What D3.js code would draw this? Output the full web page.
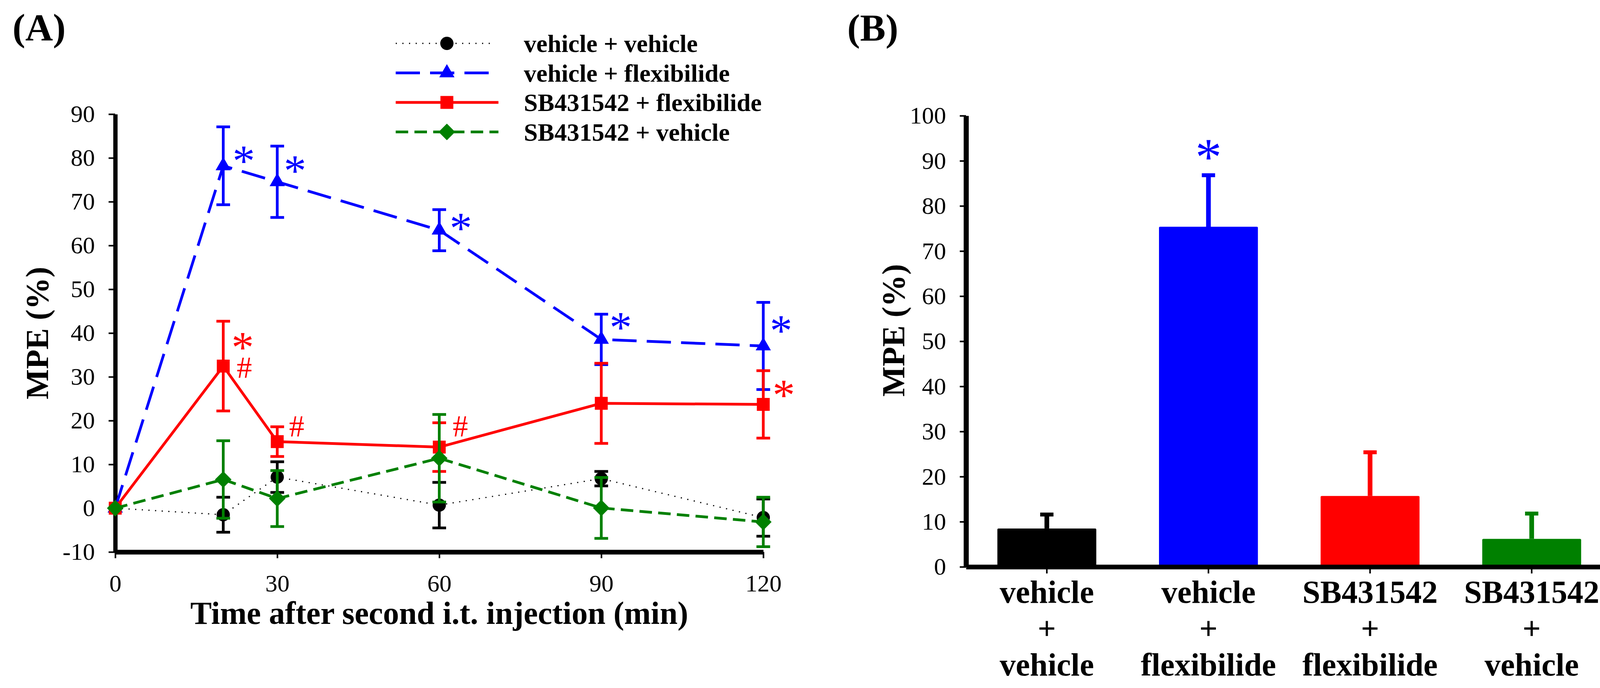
<!DOCTYPE html>
<html>
<head>
<meta charset="utf-8">
<script src="https://cdn.jsdelivr.net/npm/d3@7"></script>
<style>
	body { margin: 0; background: #ffffff; }
	svg { display: block; }
</style>
</head>
<body>
<svg id="chart" width="4145" height="1760"></svg>
<script>
// ---- DATA ----
// panel (A): time course, mean +/- error per group
const times = [0, 20, 30, 60, 90, 120];
const timeTicks = [0, 30, 60, 90, 120];
const mpeTicksA = [-10, 0, 10, 20, 30, 40, 50, 60, 70, 80, 90];
const seriesNames = ['vehicle + vehicle', 'vehicle + flexibilide', 'SB431542 + flexibilide', 'SB431542 + vehicle'];
const vehVehMean = [0, -1.5, 7.1, 0.7, 6.75, -2.15];
const vehVehErr = [0, 4.0, 3.5, 5.2, 1.65, 4.25];
const vehFlexMean = [0, 78.2, 74.55, 63.5, 38.55, 37.05];
const vehFlexErr = [0, 8.9, 8.15, 4.7, 5.75, 9.95];
const sbFlexMean = [0, 32.45, 15.2, 13.95, 23.95, 23.7];
const sbFlexErr = [0, 10.25, 3.4, 5.55, 9.15, 7.7];
const sbVehMean = [0, 6.55, 2.2, 11.4, 0.05, -3.15];
const sbVehErr = [0, 8.85, 6.4, 10.0, 6.95, 5.65];

// significance marks in (A): position in minutes / MPE units
const blueStarTime = [23.8, 33.3, 64.0, 93.6, 123.3];
const blueStarMpe = [80.7, 78.5, 65.4, 42.7, 42.0];
const redStarTime = [23.6, 123.8];
const redStarMpe = [38.1, 27.2];
const redHashTime = [23.9, 33.6, 63.9];
const redHashMpe = [32.2, 18.8, 18.8];

// panel (B): bars
const groupLabels = [['vehicle', '+', 'vehicle'], ['vehicle', '+', 'flexibilide'], ['SB431542', '+', 'flexibilide'], ['SB431542', '+', 'vehicle']];
const barMeans = [8.5, 75.4, 15.7, 6.2];
const barErrs = [3.1, 11.4, 9.7, 5.6];
const mpeTicksB = [0, 10, 20, 30, 40, 50, 60, 70, 80, 90, 100];
const barStarIndex = 1;
const barStarMpe = 92.4;

// ---- STYLE ----
const FONT = '"Liberation Serif", "Times New Roman", Times, serif';
const BLUE = '#0000ff', RED = '#ff0000', GREEN = '#008000', BLACK = '#000000';

const series = [
	{ name: seriesNames[0], mean: vehVehMean, err: vehVehErr, color: BLACK, width: 3, dash: '3,14', marker: 'circle' },
	{ name: seriesNames[1], mean: vehFlexMean, err: vehFlexErr, color: BLUE, width: 7, dash: '62,26', marker: 'triangle' },
	{ name: seriesNames[2], mean: sbFlexMean, err: sbFlexErr, color: RED, width: 7, dash: null, marker: 'square' },
	{ name: seriesNames[3], mean: sbVehMean, err: sbVehErr, color: GREEN, width: 7, dash: '32,16', marker: 'diamond' }
];
const barColors = [BLACK, BLUE, RED, GREEN];

const svg = d3.select('#chart').attr('font-family', FONT);
svg.append('rect').attr('width', 4145).attr('height', 1760).attr('fill', '#ffffff');

// marker shapes
function markerPath(type) {
	if (type === 'circle') return d3.symbol().type(d3.symbolCircle).size(Math.PI * 17 * 17)();
	if (type === 'triangle') return d3.symbol().type(d3.symbolTriangle).size(660)();
	if (type === 'square') return d3.symbol().type(d3.symbolSquare).size(33 * 33)();
	return d3.symbol().type(d3.symbolSquare).size(900)(); // rotated below -> diamond
}
function markerRotate(type) { return type === 'diamond' ? ' rotate(45)' : ''; }

// plain hyphen for negatives, as in the original figure
const plainFmt = d => String(d);

// heavy axis styling shared by both panels
function styleAxis(g, domainWidth, fontSize) {
	g.attr('font-family', FONT);
	g.select('.domain').attr('stroke', BLACK).attr('stroke-width', domainWidth);
	g.selectAll('.tick line').attr('stroke', BLACK).attr('stroke-width', 4);
	g.selectAll('.tick text').attr('fill', BLACK).attr('font-size', fontSize);
}

// ================= PANEL A =================
const xA = d3.scaleLinear().domain([0, 120]).range([295, 1954]);
const yA = d3.scaleLinear().domain([-10, 90]).range([1412, 292]);

const axisYA = svg.append('g')
	.attr('transform', `translate(${xA(0)},0)`)
	.call(d3.axisLeft(yA).tickValues(mpeTicksA).tickFormat(plainFmt).tickSize(17).tickSizeOuter(0).tickPadding(35));
styleAxis(axisYA, 11, 62);

const axisXA = svg.append('g')
	.attr('transform', `translate(0,${yA(-10)})`)
	.call(d3.axisBottom(xA).tickValues(timeTicks).tickFormat(plainFmt).tickSize(16).tickSizeOuter(0).tickPadding(41));
styleAxis(axisXA, 12, 62);

const lineGen = d3.line()
	.x((d, i) => xA(times[i]))
	.y(d => yA(d));

series.forEach(s => {
	const g = svg.append('g');
	// connecting line
	g.append('path')
		.datum(s.mean)
		.attr('d', lineGen)
		.attr('fill', 'none')
		.attr('stroke', s.color)
		.attr('stroke-width', s.width)
		.attr('stroke-dasharray', s.dash);
	// error bars (skip t = 0, no variance there)
	const pts = s.mean.map((m, i) => ({ t: times[i], m: m, e: s.err[i] })).filter(p => p.e > 0);
	g.selectAll('line.err')
		.data(pts)
		.join('line')
		.attr('x1', d => xA(d.t)).attr('x2', d => xA(d.t))
		.attr('y1', d => yA(d.m - d.e)).attr('y2', d => yA(d.m + d.e))
		.attr('stroke', s.color).attr('stroke-width', 7);
	g.selectAll('line.capTop')
		.data(pts)
		.join('line')
		.attr('x1', d => xA(d.t) - 17.5).attr('x2', d => xA(d.t) + 17.5)
		.attr('y1', d => yA(d.m + d.e)).attr('y2', d => yA(d.m + d.e))
		.attr('stroke', s.color).attr('stroke-width', 7);
	g.selectAll('line.capBot')
		.data(pts)
		.join('line')
		.attr('x1', d => xA(d.t) - 17.5).attr('x2', d => xA(d.t) + 17.5)
		.attr('y1', d => yA(d.m - d.e)).attr('y2', d => yA(d.m - d.e))
		.attr('stroke', s.color).attr('stroke-width', 7);
	// markers
	g.selectAll('path.marker')
		.data(s.mean)
		.join('path')
		.attr('d', markerPath(s.marker))
		.attr('transform', (d, i) => `translate(${xA(times[i])},${yA(d)})${markerRotate(s.marker)}`)
		.attr('fill', s.color);
});

// significance marks
function addMarks(tArr, vArr, txt, color, size, shift) {
	svg.append('g').selectAll('text')
		.data(tArr)
		.join('text')
		.attr('x', d => xA(d))
		.attr('y', (d, i) => yA(vArr[i]) + shift * size)
		.attr('text-anchor', 'middle')
		.attr('font-size', size)
		.attr('fill', color)
		.text(txt);
}
addMarks(blueStarTime, blueStarMpe, '*', BLUE, 115, 0.47);
addMarks(redStarTime, redStarMpe, '*', RED, 115, 0.47);
addMarks(redHashTime, redHashMpe, '#', RED, 78, 0.34);

// axis titles & panel label
svg.append('text')
	.attr('x', (xA.range()[0] + xA.range()[1]) / 2).attr('y', 1596)
	.attr('text-anchor', 'middle').attr('font-size', 82).attr('font-weight', 'bold')
	.text('Time after second i.t. injection (min)');
svg.append('text')
	.attr('transform', `translate(123,${(yA.range()[0] + yA.range()[1]) / 2}) rotate(-90)`)
	.attr('text-anchor', 'middle').attr('font-size', 82).attr('font-weight', 'bold')
	.text('MPE (%)');
svg.append('text')
	.attr('x', 32).attr('y', 103)
	.attr('font-size', 98).attr('font-weight', 'bold')
	.text('(A)');

// legend
const legend = svg.append('g').attr('transform', 'translate(1013,133)');
const legendLen = [252, 238, 263, 263];
series.forEach((s, i) => {
	const row = legend.append('g').attr('transform', `translate(0,${i * 75.5})`);
	row.append('line')
		.attr('x1', 0).attr('x2', legendLen[i])
		.attr('y1', -22).attr('y2', -22)
		.attr('stroke', s.color).attr('stroke-width', s.width)
		.attr('stroke-dasharray', s.dash);
	row.append('path')
		.attr('d', markerPath(s.marker))
		.attr('transform', `translate(131,-22)${markerRotate(s.marker)}`)
		.attr('fill', s.color);
	row.append('text')
		.attr('x', 328).attr('y', 0)
		.attr('font-size', 64).attr('font-weight', 'bold')
		.text(s.name);
});

// ================= PANEL B =================
const xB = d3.scaleBand().domain(d3.range(barMeans.length)).range([2473, 4128]).paddingInner(0.388).paddingOuter(0.194);
const yB = d3.scaleLinear().domain([0, 100]).range([1450, 296]);

svg.append('g').selectAll('rect')
	.data(barMeans)
	.join('rect')
	.attr('x', (d, i) => xB(i))
	.attr('width', xB.bandwidth())
	.attr('y', d => yB(d))
	.attr('height', d => yB(0) - yB(d))
	.attr('rx', 3)
	.attr('fill', (d, i) => barColors[i]);

// upper error bars only
svg.append('g').selectAll('line')
	.data(barMeans)
	.join('line')
	.attr('x1', (d, i) => xB(i) + xB.bandwidth() / 2)
	.attr('x2', (d, i) => xB(i) + xB.bandwidth() / 2)
	.attr('y1', d => yB(d))
	.attr('y2', (d, i) => yB(d + barErrs[i]))
	.attr('stroke', (d, i) => barColors[i]).attr('stroke-width', 12);
svg.append('g').selectAll('line')
	.data(barMeans)
	.join('line')
	.attr('x1', (d, i) => xB(i) + xB.bandwidth() / 2 - 17)
	.attr('x2', (d, i) => xB(i) + xB.bandwidth() / 2 + 17)
	.attr('y1', (d, i) => yB(d + barErrs[i]))
	.attr('y2', (d, i) => yB(d + barErrs[i]))
	.attr('stroke', (d, i) => barColors[i]).attr('stroke-width', 10);

const axisYB = svg.append('g')
	.attr('transform', `translate(${xB.range()[0]},0)`)
	.call(d3.axisLeft(yB).tickValues(mpeTicksB).tickFormat(plainFmt).tickSize(16).tickSizeOuter(0).tickPadding(35));
styleAxis(axisYB, 13, 62);

const axisXB = svg.append('g')
	.attr('transform', `translate(0,${yB(0)})`)
	.call(d3.axisBottom(xB).tickSize(17).tickSizeOuter(0).tickFormat(''));
styleAxis(axisXB, 12, 62);

// three-line category labels
groupLabels.forEach((lines, i) => {
	const t = svg.append('text')
		.attr('text-anchor', 'middle')
		.attr('font-size', 82).attr('font-weight', 'bold');
	lines.forEach((ln, k) => {
		t.append('tspan')
			.attr('x', xB(i) + xB.bandwidth() / 2)
			.attr('y', yB(0) + 92 + k * 93)
			.text(ln);
	});
});

svg.append('text')
	.attr('x', xB(barStarIndex) + xB.bandwidth() / 2)
	.attr('y', yB(barStarMpe) + 0.47 * 135)
	.attr('text-anchor', 'middle').attr('font-size', 135).attr('fill', BLUE)
	.text('*');

svg.append('text')
	.attr('transform', `translate(2315,845) rotate(-90)`)
	.attr('text-anchor', 'middle').attr('font-size', 82).attr('font-weight', 'bold')
	.text('MPE (%)');
svg.append('text')
	.attr('x', 2169).attr('y', 104)
	.attr('font-size', 98).attr('font-weight', 'bold')
	.text('(B)');
</script>
</body>
</html>
